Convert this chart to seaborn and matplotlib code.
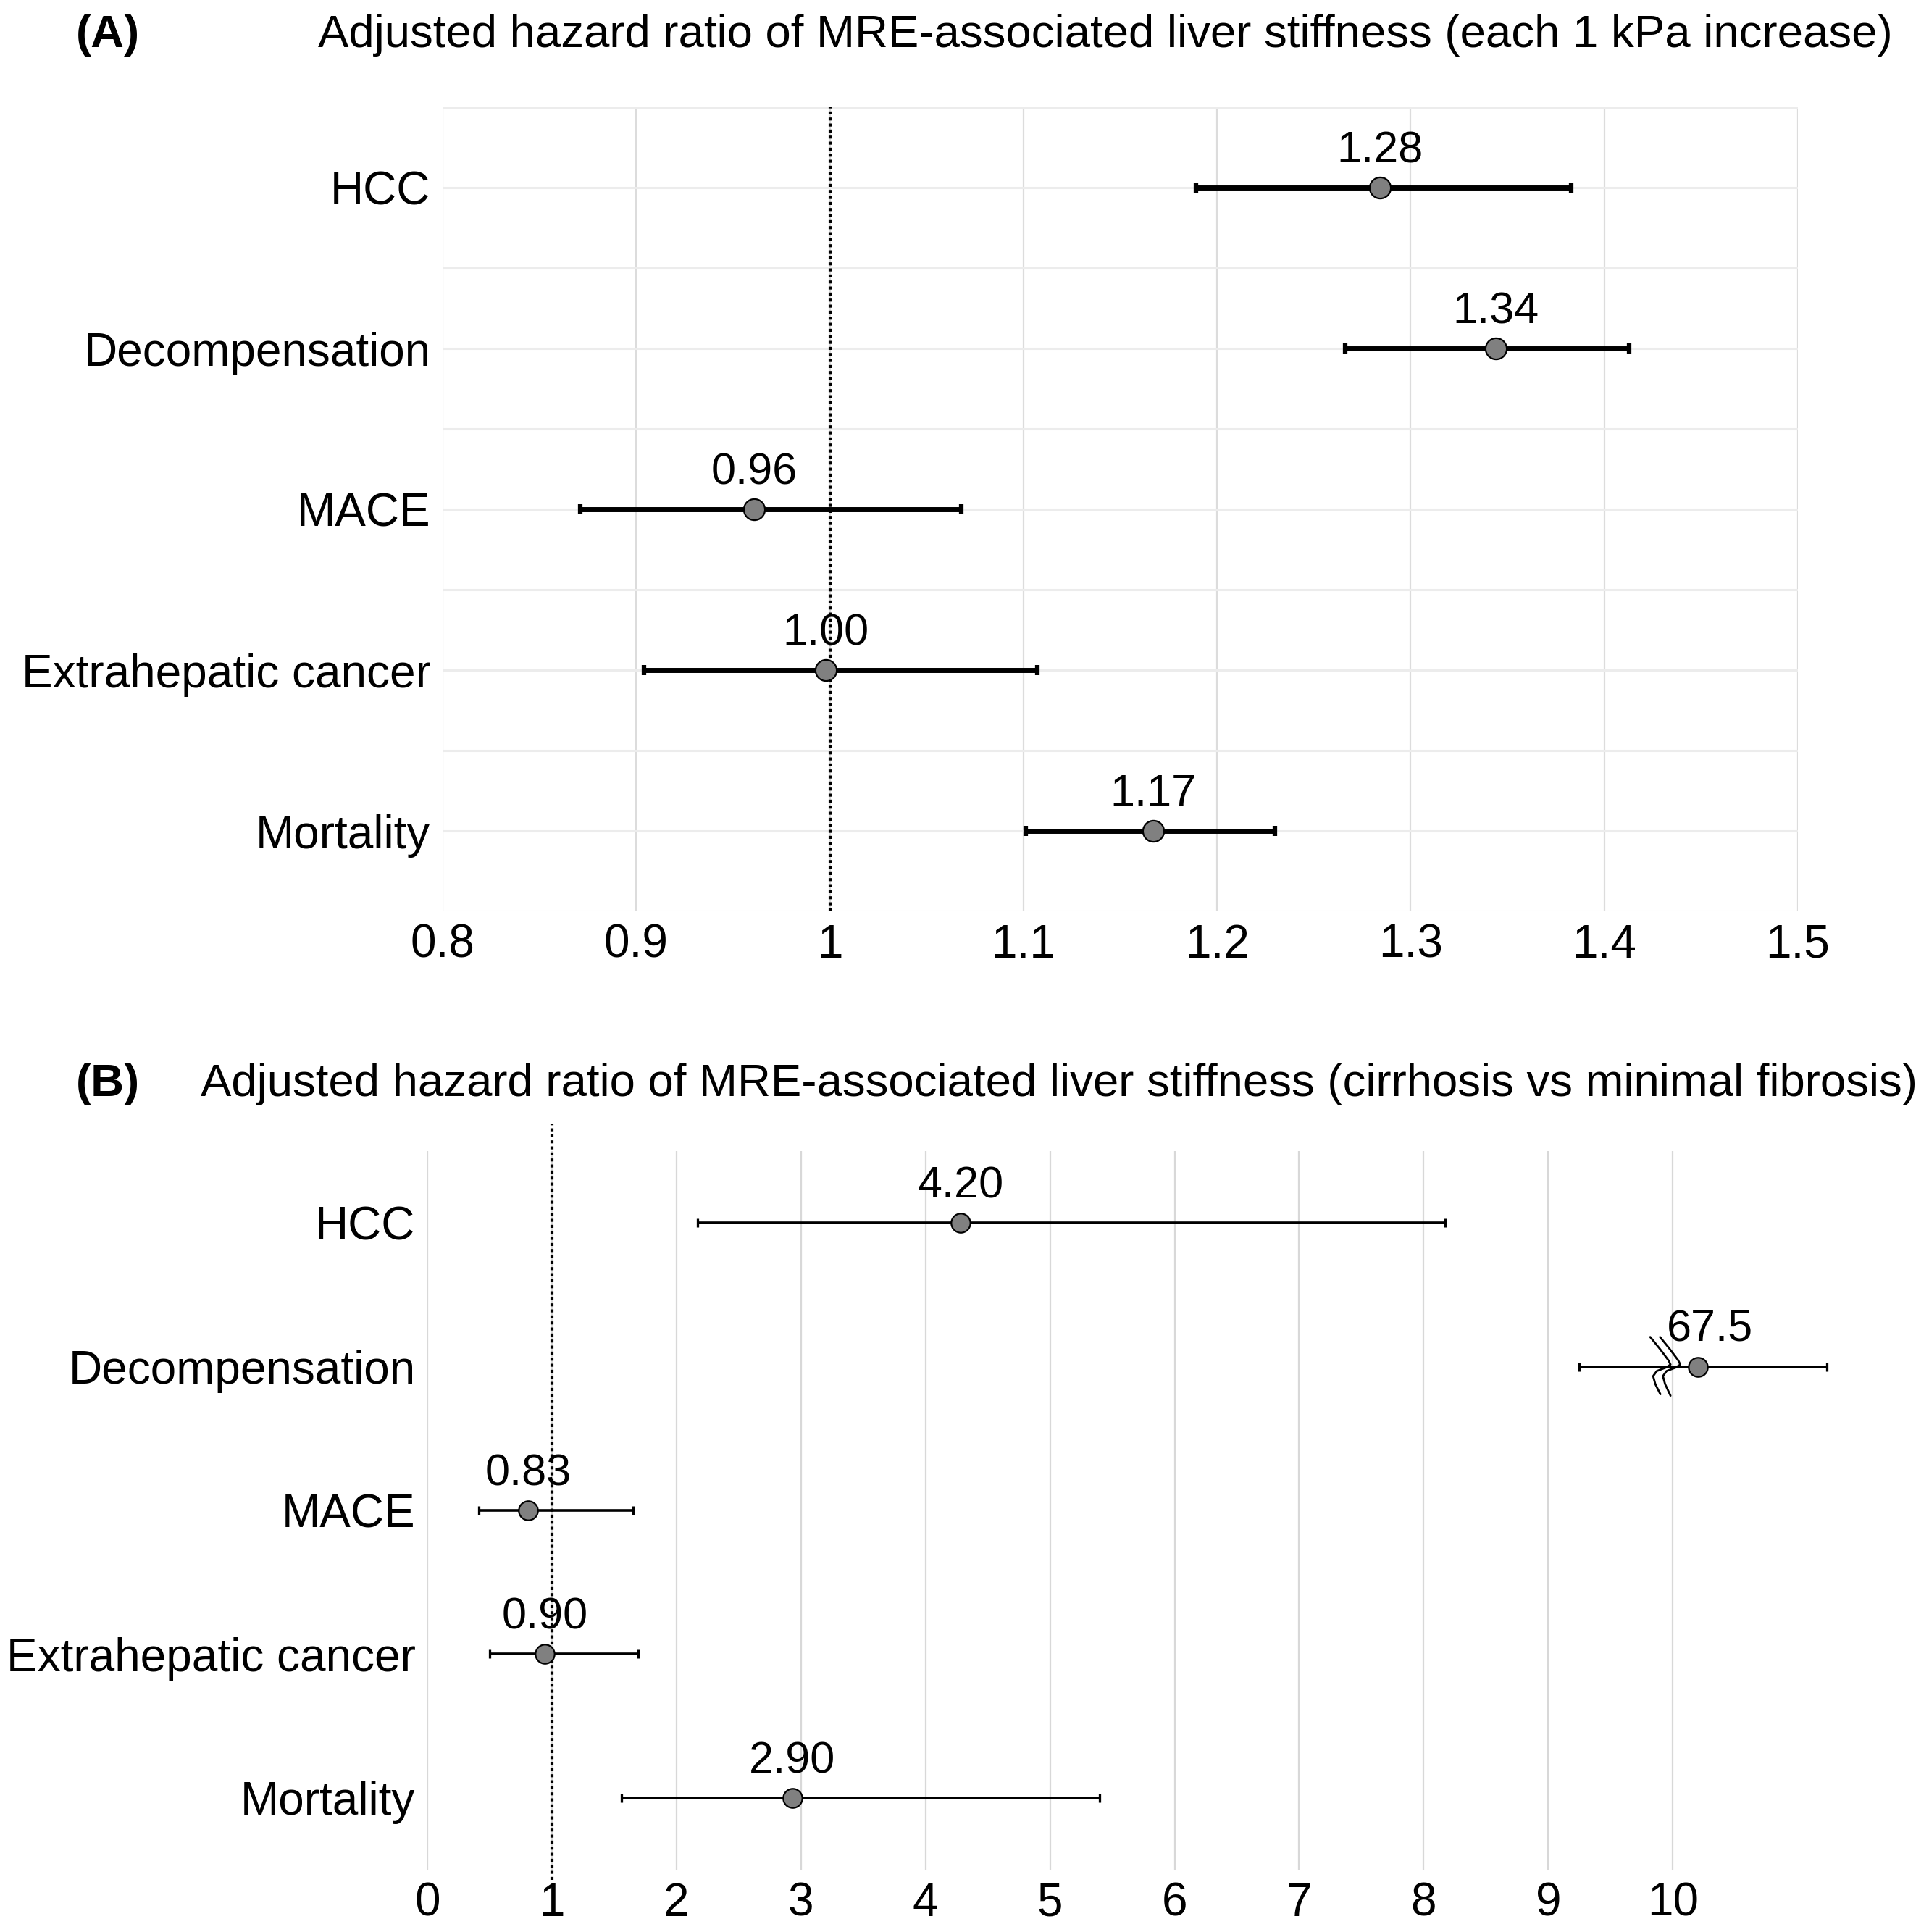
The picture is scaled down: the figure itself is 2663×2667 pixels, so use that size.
import numpy as np
import pandas as pd
import matplotlib
matplotlib.use("Agg")
import matplotlib.pyplot as plt
import matplotlib.transforms as mtransforms
import seaborn as sns

# data
outcomes = ["HCC", "Decompensation", "MACE", "Extrahepatic cancer", "Mortality"]

hr_a = [1.284, 1.344, 0.961, 0.998, 1.167]
lo_a = [1.189, 1.266, 0.871, 0.904, 1.101]
hi_a = [1.383, 1.413, 1.068, 1.107, 1.230]
labels_a = ["1.28", "1.34", "0.96", "1.00", "1.17"]
ticks_a = [0.8, 0.9, 1.0, 1.1, 1.2, 1.3, 1.4, 1.5]
ticklabels_a = ["0.8", "0.9", "1", "1.1", "1.2", "1.3", "1.4", "1.5"]

# panel B: decompensation (67.5) drawn past an axis break
hr_b = [4.28, 10.2, 0.81, 0.94, 2.93]
lo_b = [2.17, 9.25, 0.41, 0.50, 1.56]
hi_b = [8.17, 11.24, 1.65, 1.69, 5.40]
labels_b = ["4.20", "67.5", "0.83", "0.90", "2.90"]
ticks_b = list(range(0, 11))
break_at = 10

title_a = "Adjusted hazard ratio of MRE-associated liver stiffness (each 1 kPa increase)"
title_b = "Adjusted hazard ratio of MRE-associated liver stiffness (cirrhosis vs minimal fibrosis)"

sns.set_theme(style="white")
plt.rcParams['font.family'] = ['Liberation Sans', 'DejaVu Sans']
plt.rcParams['text.color'] = 'black'
plt.rcParams['xtick.color'] = 'black'
plt.rcParams['ytick.color'] = 'black'

df_a = pd.DataFrame({"outcome": outcomes, "hr": hr_a, "lo": lo_a, "hi": hi_a, "label": labels_a})
df_b = pd.DataFrame({"outcome": outcomes, "hr": hr_b, "lo": lo_b, "hi": hi_b, "label": labels_b})

fig = plt.figure(figsize=(26.63, 26.67), dpi=100)
ax1 = fig.add_axes([0.2295, 0.5283, 0.7025, 0.4162])
ax2 = fig.add_axes([0.2216, 0.0322, 0.7359, 0.3720])

FS = 46


def forest(ax, df, lw, cap, ms, shifted=None):
    ypos = np.arange(len(df))
    ax.errorbar(df["hr"], ypos, xerr=[df["hr"] - df["lo"], df["hi"] - df["hr"]],
                fmt="none", ecolor="black", elinewidth=lw, capsize=cap, capthick=lw * 0.9, zorder=3)
    sns.scatterplot(x=df["hr"], y=ypos, ax=ax, s=ms ** 2, color="#808080",
                    edgecolor="black", linewidth=1.6, zorder=4, legend=False)
    for i, (x, y, t) in enumerate(zip(df["hr"], ypos, df["label"])):
        dx = 12 if i == shifted else 0  # nudge the label clear of the break mark
        ax.annotate(t, (x, y), xytext=(dx, 25), textcoords="offset points",
                    ha="center", va="baseline", fontsize=FS - 2, zorder=5)
    ax.set_ylim(len(df) - 0.5, -0.5)
    ax.set_yticks(ypos)
    ax.set_yticklabels(df["outcome"], fontsize=FS)
    ax.set_xlabel("")
    ax.set_ylabel("")
    for s in ax.spines.values():
        s.set_visible(False)
    ax.tick_params(axis="both", length=0, labelsize=FS, labelcolor="black")
    ax.tick_params(axis="x", pad=12)
    ax.tick_params(axis="y", pad=12)


# panel A
forest(ax1, df_a, lw=5.0, cap=5, ms=21)
ax1.set_xlim(0.8, 1.5)
ax1.set_xticks(ticks_a)
ax1.set_xticklabels(ticklabels_a)
ax1.set_yticks(np.arange(-0.5, len(outcomes), 1.0), minor=True)
ax1.grid(True, axis="x", color="#dcdcdc", linewidth=1.6, zorder=0)
ax1.grid(True, axis="y", which="both", color="#ececec", linewidth=2.2, zorder=0)
ax1.axvline(1, color="black", linestyle=(0, (1.0, 1.0)), linewidth=3.0, zorder=2)

# panel B
row = outcomes.index("Decompensation")
forest(ax2, df_b, lw=2.6, cap=4.5, ms=19, shifted=row)
ax2.set_xlim(0, 11.4)
ax2.set_xticks(ticks_b)
ax2.grid(True, axis="x", color="#d8d8d8", linewidth=1.6, zorder=0)
ax2.grid(False, axis="y")
ax2.axvline(1, ymin=-0.014, ymax=1.037, clip_on=False, color="black",
            linestyle=(0, (1.0, 1.0)), linewidth=3.0, zorder=2)

# axis break mark on the decompensation row
trans = fig.dpi_scale_trans + mtransforms.ScaledTranslation(break_at, row, ax2.transData)
brk1 = np.array([(-0.31, 0.41), (-0.18, 0.25), (-0.06, 0.09), (-0.03, 0.03),
                 (-0.09, -0.01), (-0.22, -0.06), (-0.27, -0.13), (-0.24, -0.24), (-0.17, -0.38)])
brk2 = brk1 + np.array([0.135, 0.0])
brk2[-1] = (-0.03, -0.40)
for b in (brk1, brk2):
    ax2.plot(b[:, 0], b[:, 1], transform=trans, color="black", linewidth=2.0,
             solid_capstyle="round", clip_on=False, zorder=5)

# titles
TS = 45.7
fig.text(0.0394, 0.982, "(A)", fontsize=TS, fontweight="bold", va="center", ha="left")
fig.text(0.165, 0.982, title_a, fontsize=TS, va="center", ha="left")
fig.text(0.0394, 0.439, "(B)", fontsize=TS, fontweight="bold", va="center", ha="left")
fig.text(0.104, 0.439, title_b, fontsize=TS, va="center", ha="left")

fig.savefig("out.png", dpi=100, facecolor="white")
